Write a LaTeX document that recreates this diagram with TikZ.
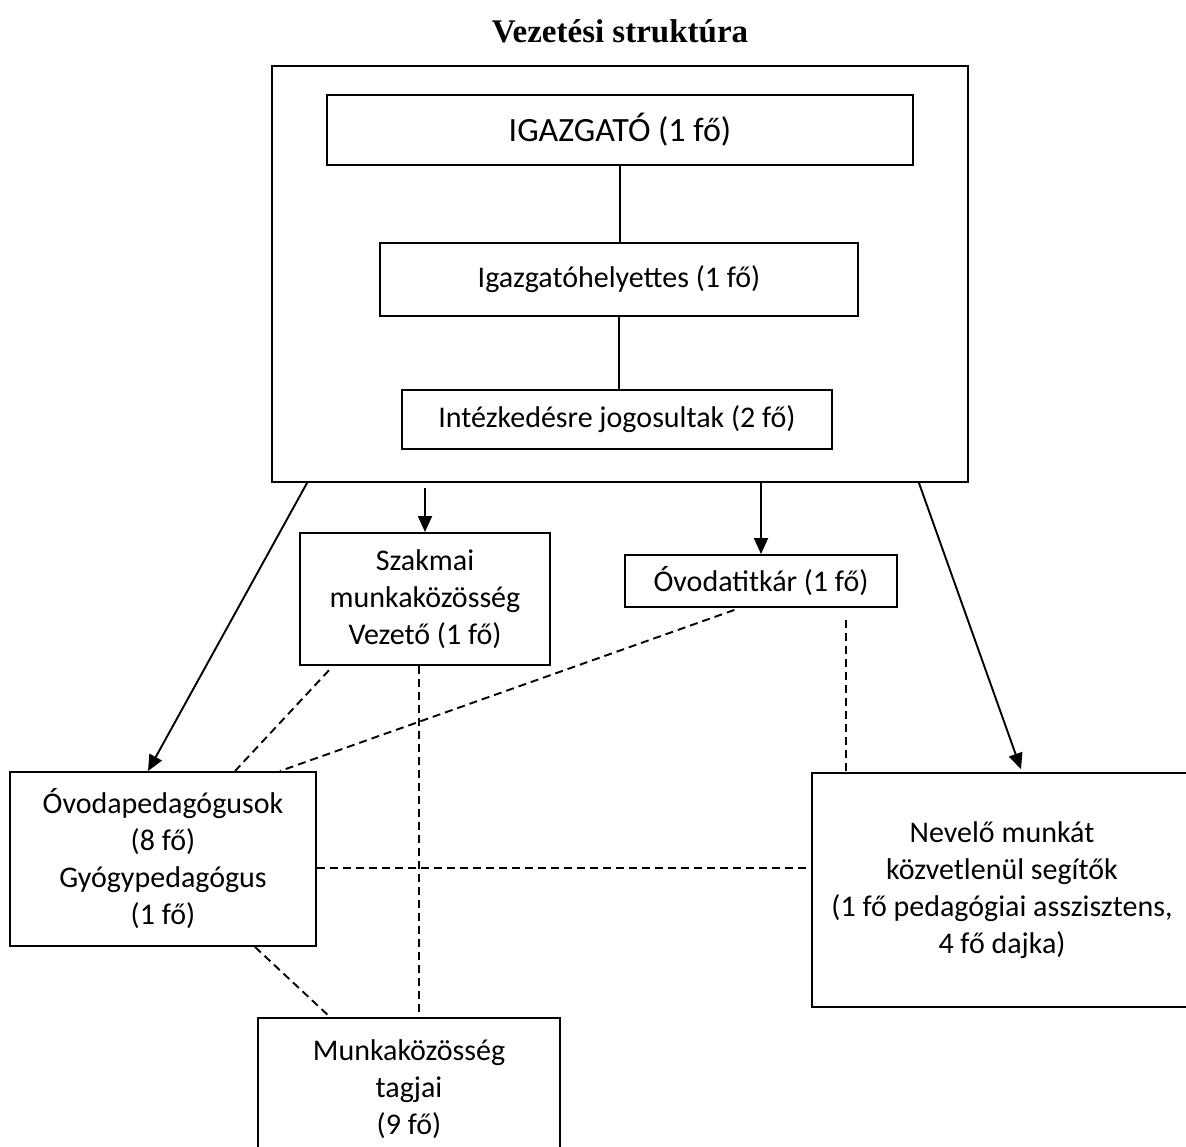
\documentclass[tikz,border=0pt]{standalone}
\usepackage{fontspec}
\setmainfont{Carlito}
\newfontfamily\titlefont{Liberation Serif}
\usetikzlibrary{positioning, arrows.meta}

\begin{document}
\begin{tikzpicture}[x=1pt,y=-1pt,line width=1.9pt,
    box/.style={draw,align=center,inner sep=0pt,font=\fontsize{30}{37}\selectfont},
    kapcsolat/.style={dash pattern=on 8pt off 5pt},
    arr/.style={-{Triangle[length=16pt,width=14pt]}}]
  \useasboundingbox (0,0) rectangle (1186,1147);
  \node (title) at (620,31) {\titlefont\bfseries\fontsize{33}{39}\selectfont Vezetési struktúra};
  \node[box, minimum width=696, minimum height=416] (vezetes) at (620,274) {};
  \node[box, minimum width=586, minimum height=70, font=\fontsize{34}{40}\selectfont] (igazgato) at (620,130) {IGAZGATÓ (1 fő)};
  \node[box, minimum width=478, minimum height=73] (helyettes) at (619,279.5) {Igazgatóhelyettes (1 fő)};
  \node[box, minimum width=430, minimum height=59] (jogosult) at (617,419.5) {Intézkedésre jogosultak (2 fő)};
  \node[box, minimum width=250, minimum height=132] (szakmai) at (425,599) {Szakmai\\munkaközösség\\Vezető (1 fő)};
  \node[box, minimum width=272, minimum height=52] (titkar) at (761,581) {Óvodatitkár (1 fő)};
  \node[box, minimum width=306, minimum height=174] (ovoda) at (163,859) {Óvodapedagógusok\\(8 fő)\\Gyógypedagógus\\(1 fő)};
  \node[box, minimum width=380, minimum height=234] (nevelo) at (1002,890) {Nevelő munkát\\közvetlenül segítők\\(1 fő pedagógiai asszisztens,\\4 fő dajka)};
  \node[box, minimum width=302, minimum height=142] (munka) at (409,1089) {Munkaközösség\\tagjai\\(9 fő)};
  \coordinate (szv) at ([xshift=-6pt]szakmai.south);
  \coordinate (tv) at ([xshift=85pt]titkar.south);
  \coordinate (ov) at ([yshift=-9pt]ovoda.east);
  \draw (igazgato.south) -- (igazgato.south |- helyettes.north);
  \draw (helyettes.south) -- (helyettes.south |- jogosult.north);
  \draw[arr] ([xshift=36pt]vezetes.south west) -- ([xshift=-15pt]ovoda.north);
  \draw[arr, shorten <=5pt] (szakmai.north |- vezetes.south) -- (szakmai.north);
  \draw[arr] (titkar.north |- vezetes.south) -- (titkar.north);
  \draw[arr, shorten >=3pt] ([xshift=-50pt]vezetes.south east) -- ([xshift=20pt]nevelo.north);
  \draw[kapcsolat, shorten <=6pt] ([xshift=-92pt]szakmai.south) -- ([xshift=72pt]ovoda.north);
  \draw[kapcsolat] (szv) -- (szv |- munka.north);
  \draw[kapcsolat, shorten <=6pt] ([xshift=-21pt]titkar.south) -- ([xshift=117pt]ovoda.north);
  \draw[kapcsolat, shorten <=12pt] (tv) -- (tv |- nevelo.north);
  \draw[kapcsolat] (ov) -- (ov -| nevelo.west);
  \draw[kapcsolat] ([xshift=92pt]ovoda.south) -- ([xshift=-79pt]munka.north);
\end{tikzpicture}
\end{document}
